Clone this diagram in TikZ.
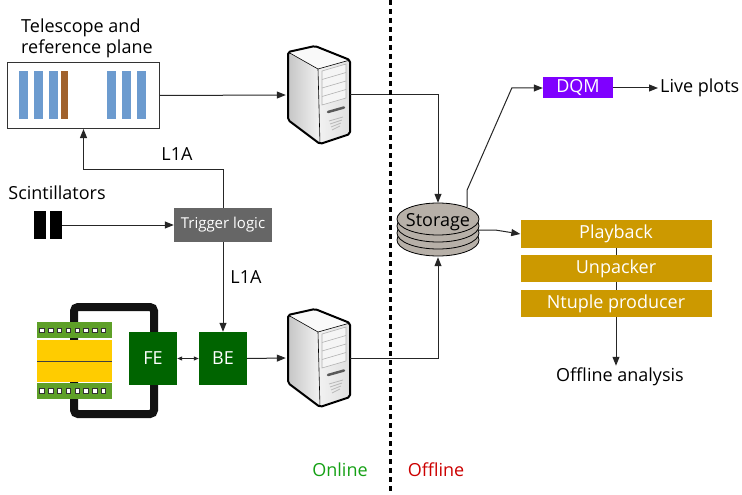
\documentclass[tikz,border=0pt]{standalone}
\usepackage{fontspec}
\setmainfont{Open Sans}
\usetikzlibrary{arrows.meta,calc,positioning}

\definecolor{telblue}{RGB}{108,155,207}
\definecolor{telbrown}{RGB}{160,98,45}
\definecolor{modgreen}{RGB}{94,160,40}
\definecolor{modyellow}{RGB}{255,204,0}
\definecolor{febegreen}{RGB}{0,100,0}
\definecolor{dqmpurple}{RGB}{127,0,255}
\definecolor{swgold}{RGB}{204,153,0}
\definecolor{diskgray}{RGB}{183,176,168}
\definecolor{onlinegreen}{RGB}{20,160,20}
\definecolor{offlinered}{RGB}{204,0,0}

\tikzset{
	lbl/.style={font=\fontsize{18}{21}\selectfont, inner sep=2pt},
	blk/.style={font=\fontsize{18}{21}\selectfont, text=white, inner sep=0pt},
	conn/.style={line width=1pt, draw=black!85},
	tip/.style={-{Triangle[length=9pt,width=7pt]}},
}

% tower pc, drawn round the given point
\def\servericon(#1){
	\begin{scope}[shift={(#1)}]
		\shade[left color=gray!45, right color=gray!10] (-30,-43) -- (0,-26) -- (2,49) -- (-30,25) -- cycle;
		\fill[gray!5] (-30,-43) -- (-3,-49) -- (32,-35) -- (0,-26) -- cycle;
		\shade[left color=gray!10, right color=gray!25] (0,-26) -- (32,-35) -- (32,39) -- (2,49) -- cycle;
		\draw[gray!60, line width=0.6pt, fill=gray!8] (4,-24) -- (28,-31) -- (28,3) -- (4,10) -- cycle;
		\foreach \k in {1,2,3}
			\draw[gray!60, line width=0.6pt] (4,-24+8.5*\k) -- (28,-31+8.5*\k);
		\draw[gray!70!black, line width=2.5pt, line cap=round] (10,17) -- (26,12.5);
		\foreach \k in {0,...,3}
			\draw[gray!55, line width=0.8pt] (11+\k,26+3*\k) -- (25-\k,22+3*\k);
		\draw[line width=0.6pt] (-30,-43) -- (0,-26) -- (32,-35) (0,-26) -- (2,49);
		\draw[line width=2pt, line join=round, rounded corners=2pt] (-30,-43) -- (-3,-49) -- (32,-35) -- (32,39) -- (2,49) -- (-30,25) -- cycle;
	\end{scope}
}

\begin{document}
\begin{tikzpicture}[x=1pt, y=-1pt]
	\useasboundingbox (0,0) rectangle (742,495);
	
	%%%%% telescope %%%%%
	\node[lbl, align=left, anchor=north west] (tellbl) at (19,17) {Telescope and\\reference plane};
	\node[draw=black!80, line width=1pt, minimum width=152pt, minimum height=66pt, anchor=north west] (tel) at (7,62) {};
	\foreach \x in {19,34,49,107,122,137}
		\fill[telblue] (\x,71) rectangle ++(9,48);
	\fill[telbrown] (61,71) rectangle ++(7,48);
	
	%%%%% servers %%%%%
	\node[minimum width=64pt, minimum height=96pt, inner sep=0pt] (srvA) at (318,95) {};
	\node[minimum width=64pt, minimum height=96pt, inner sep=0pt] (srvB) at (318,358) {};
	\servericon(srvA.center)
	\servericon(srvB.center)
	
	%%%%% storage %%%%%
	\node[minimum width=82pt, minimum height=54pt, inner sep=0pt] (stor) at (438,230) {};
	\foreach \cy in {240,233,226,219}
		\draw[fill=diskgray, line width=0.8pt] (438,\cy) ellipse (41pt and 16pt);
	\node[lbl] (storlbl) at (438,222) {Storage};
	
	%%%%% detector module %%%%%
	\draw[line width=8pt, rounded corners=4pt, draw=black!93] (74,307) rectangle (154,414);
	\fill[modgreen] (37,322) rectangle (112,338);
	\fill[modyellow] (37,339.5) rectangle (112,381.5);
	\draw[black!75, line width=1pt] (37,361.5) -- (112,361.5);
	\fill[modgreen] (37,383) rectangle (112,399);
	\foreach \i in {0,...,7} {
		\draw[fill=white, draw=black!80, line width=0.8pt] ({39.8+8.8*\i},328) rectangle ++(4.4,4.4);
		\draw[fill=white, draw=black!80, line width=0.8pt] ({39.8+8.8*\i},388.6) rectangle ++(4.4,4.4);
	}
	
	%%%%% readout chain %%%%%
	\node[blk, fill=febegreen, minimum width=48pt, minimum height=53pt] (fe) at (153,358.5) {FE};
	\node[blk, fill=febegreen, minimum width=48pt, minimum height=53pt] (be) at (223,358.5) {BE};
	\draw[conn, {Triangle[length=5pt,width=4pt]}-{Triangle[length=5pt,width=4pt]}] (fe) -- (be);
	\draw[conn, tip] (be.east) -- (srvB.west);
	
	%%%%% trigger %%%%%
	\node[lbl] (scintlbl) at (57,193) {Scintillators};
	\node[minimum width=28pt, minimum height=28pt, inner sep=0pt] (scint) at (48,225) {};
	\fill (34,211) rectangle (46,239);
	\fill (50,211) rectangle (62,239);
	\node[blk, fill=black!60, font=\fontsize{15}{17}\selectfont, minimum width=98pt, minimum height=34pt] (trig) at (223,225) {Trigger logic};
	\draw[conn, tip] (scint.east) -- (trig.west);
	\draw[conn, tip] (trig.north) |- ($(tel.south)+(0,40)$) -- (tel.south);
	\node[lbl] (lA) at (177,154) {L1A};
	\draw[conn, tip] (trig.south) -- (be.north);
	\node[lbl] (lB) at (246,277) {L1A};
	
	%%%%% data flow %%%%%
	\draw[conn, tip] (tel.east) -- (srvA.west);
	\draw[conn, tip] (srvA.east) -| (stor.north);
	\draw[conn, tip] (srvB.east) -| (stor.south);
	
	\node[blk, fill=dqmpurple, minimum width=70pt, minimum height=21pt] (dqm) at (578,88) {DQM};
	\node[lbl, anchor=west] (live) at (658,88) {Live plots};
	\draw[conn, tip] ($(stor.north east)+(-12,4)$) -- ++(0,-17) -- ($(dqm.west)+(-31,0)$) -- (dqm.west);
	\draw[conn, tip] (dqm.east) -- (live.west);
	
	\node[blk, fill=swgold, minimum width=191pt, minimum height=28pt] (play) at (616,234) {Playback};
	\node[blk, fill=swgold, minimum width=191pt, minimum height=27pt] (unpack) at (616,268.5) {Unpacker};
	\node[blk, fill=swgold, minimum width=191pt, minimum height=27pt] (ntup) at (616,303.5) {Ntuple producer};
	\draw[conn, line width=0.6pt] (play.south) -- (unpack.north) (unpack.south) -- (ntup.north);
	\node[lbl] (offan) at (620,377) {Offline analysis};
	\draw[conn, tip] (stor.east) -- ++(16,0) -- (play.west);
	\draw[conn, tip] (ntup.south) -- (ntup.south |- offan.north);
	
	%%%%% online / offline %%%%%
	\draw[line width=3pt, dash pattern=on 5pt off 4pt] (390,0) -- (390,495);
	\node[lbl, text=onlinegreen] (online) at (340,470) {Online};
	\node[lbl, text=offlinered] (offline) at (436,470) {Offline};
\end{tikzpicture}
\end{document}
